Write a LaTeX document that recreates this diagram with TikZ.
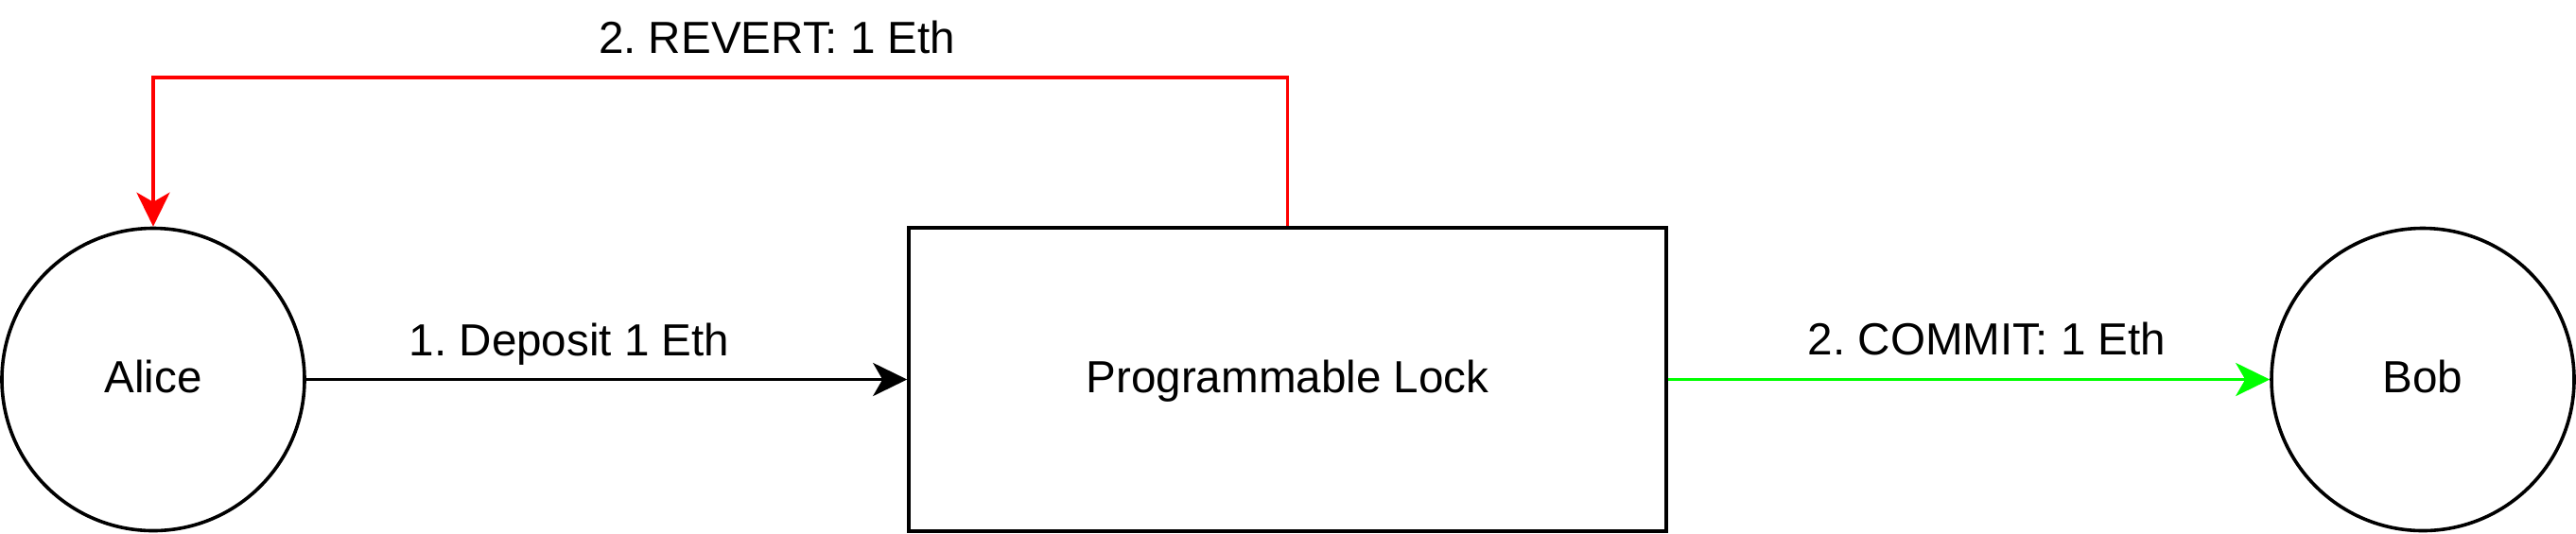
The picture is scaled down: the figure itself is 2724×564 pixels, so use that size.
\documentclass[tikz,border=0pt]{standalone}
\usepackage{fontspec}
\setmainfont{Liberation Sans}
\usetikzlibrary{arrows.meta}
\begin{document}
\frenchspacing
\begin{tikzpicture}[x=0.5pt,y=-0.5pt,
  every node/.style={font=\fontsize{23.8pt}{28pt}\selectfont},
  party/.style={draw, circle, line width=1.8pt, minimum size=160pt, inner sep=0pt, text height=17.1pt, text depth=3.6pt},
  lockbox/.style={draw, rectangle, line width=1.8pt, minimum width=400.5pt, minimum height=160.5pt, inner sep=0pt, text height=17.1pt, text depth=3.6pt},
  tip/.style={-{Stealth[length=18pt, width=17.5pt, inset=5pt]}},
  flow/.style={tip, line width=1.9pt},
  lbl/.style={anchor=base, inner sep=0pt}
]
\useasboundingbox (0,0) rectangle (2724,564);
\node[party] (alice) at (162,401.5) {Alice};
\node[lockbox] (lock) at (1361.5,401.5) {Programmable Lock};
\node[party] (bob) at (2562,401.5) {Bob};
\coordinate (rtop) at (0,82);
\draw[flow, black] (alice) -- node[lbl, pos=.438, yshift=12.75pt] {1. Deposit 1 Eth} (lock);
\draw[flow, color={rgb,255:red,0;green,255;blue,0}] (lock) -- node[lbl, pos=.53, yshift=13.25pt, text=black] {2. COMMIT: 1 Eth} (bob);
\draw[flow, color={rgb,255:red,255;green,0;blue,0}] (lock.north) -- (lock.north |- rtop) -- node[lbl, pos=.45, yshift=13pt, text=black] {2. REVERT: 1 Eth} (alice.north |- rtop) -- (alice.north);
\end{tikzpicture}
\end{document}
